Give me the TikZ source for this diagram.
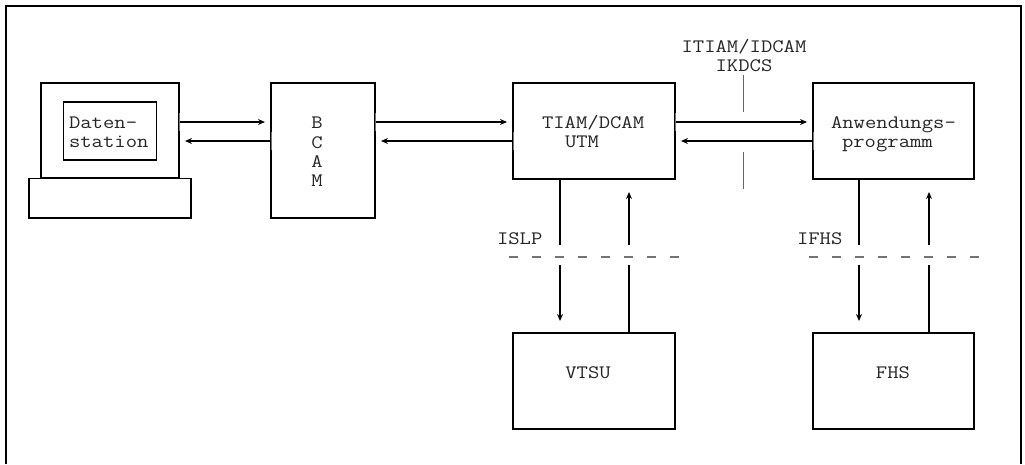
\documentclass[tikz,border=0pt]{standalone}
\usepackage{fontspec}
\setmainfont[FakeStretch=1.16]{Latin Modern Mono}
\usetikzlibrary{arrows.meta}
\tikzset{
  x=1pt,y=-1pt,
  box/.style={draw=black,line width=1.9pt,fill=white,inner sep=0pt,outer sep=0pt},
  lab/.style={inner sep=0pt,outer sep=0pt,text=black!85,font=\fontsize{19}{19.5}\selectfont},
  link/.style={draw=black,line width=1.8pt},
  arr/.style={link,-{Stealth[length=7pt,width=6pt]}},
  tick/.style={draw=black!55,line width=0.8pt},
  thin rule/.style={draw=black!60,line width=0.9pt},
  cut/.style={draw=black!55,line width=1.6pt,dash pattern=on 9pt off 14pt},
}
\begin{document}
\begin{tikzpicture}
\useasboundingbox (0,0) rectangle (1025,464);
\draw[black,line width=2pt] (6,464) -- (6,5.5) -- (1021,5.5) -- (1021,464);
% boxes
\node[box,minimum width=138pt,minimum height=95pt,anchor=north west] (mon) at (41,83) {};
\node[box,minimum width=162pt,minimum height=39.5pt,anchor=north west] (base) at (29,178.5) {};
\node[box,minimum width=93pt,minimum height=58pt,anchor=north west] (dat) at (63.5,102) {};
\node[box,minimum width=104pt,minimum height=135pt,anchor=north west] (bcam) at (271,83) {};
\node[box,minimum width=162pt,minimum height=96pt,anchor=north west] (tiam) at (513,83) {};
\node[box,minimum width=161pt,minimum height=96pt,anchor=north west] (anw) at (813,83) {};
\node[box,minimum width=162pt,minimum height=96pt,anchor=north west] (vtsu) at (513,333) {};
\node[box,minimum width=161pt,minimum height=96pt,anchor=north west] (fhs) at (813,333) {};
% text
\node[lab,anchor=base west] (t1) at (69,128) {Daten-};
\node[lab,anchor=base west] (t2) at (69,147) {station};
\node[lab,anchor=base] (b1) at (317,128) {B};
\node[lab,anchor=base] (b2) at (317,148) {C};
\node[lab,anchor=base] (b3) at (317,167) {A};
\node[lab,anchor=base] (b4) at (317,186) {M};
\node[lab,anchor=base west] (t3) at (542,128) {TIAM/DCAM};
\node[lab,anchor=base west] (t4) at (565,147) {UTM};
\node[lab,anchor=base west] (t5) at (831,128) {Anwendungs-};
\node[lab,anchor=base west] (t6) at (842,147) {programm};
\node[lab,anchor=base] (t7) at (744,52) {ITIAM/IDCAM};
\node[lab,anchor=base] (t8) at (744,71) {IKDCS};
\node[lab,anchor=base west] (t9) at (497,244) {ISLP};
\node[lab,anchor=base west] (t10) at (797,244) {IFHS};
\node[lab,anchor=base] (t11) at (588,378) {VTSU};
\node[lab,anchor=base] (t12) at (893,378) {FHS};
% free ends
\coordinate (yA) at (0,122);
\coordinate (yB) at (0,141);
\coordinate (a1) at (265,122); \coordinate (a2) at (185,141);
\coordinate (a3) at (507,122); \coordinate (a4) at (381,141);
\coordinate (a5) at (807,122); \coordinate (a6) at (681,141);
\coordinate (d1a) at (560,245); \coordinate (d1b) at (560,265); \coordinate (d1c) at (560,321);
\coordinate (d2a) at (629,265); \coordinate (d2b) at (629,245); \coordinate (d2c) at (629,192);
\coordinate (d3a) at (859,245); \coordinate (d3b) at (859,265); \coordinate (d3c) at (859,321);
\coordinate (d4a) at (929,265); \coordinate (d4b) at (929,245); \coordinate (d4c) at (929,192);
\coordinate (c1) at (508.5,257); \coordinate (c2) at (679,257);
\coordinate (c3) at (809,257); \coordinate (c4) at (979,257);
\coordinate (r1) at (743,75); \coordinate (r2) at (743,112);
\coordinate (r3) at (743,152); \coordinate (r4) at (743,189);
% horizontal arrows
\draw[arr] (mon.east |- yA) -- (a1);
\draw[arr] (bcam.west |- yB) -- (a2);
\draw[arr] (bcam.east |- yA) -- (a3);
\draw[arr] (tiam.west |- yB) -- (a4);
\draw[arr] (tiam.east |- yA) -- (a5);
\draw[arr] (anw.west |- yB) -- (a6);
% ticks at arrow tails
\draw[tick] ([yshift=-9pt]mon.east |- yA) -- ([yshift=9pt]mon.east |- yA);
\draw[tick] ([yshift=-9pt]bcam.west |- yB) -- ([yshift=9pt]bcam.west |- yB);
\draw[tick] ([yshift=-9pt]tiam.west |- yB) -- ([yshift=9pt]tiam.west |- yB);
\draw[tick] ([yshift=-9pt]tiam.east |- yA) -- ([yshift=9pt]tiam.east |- yA);
\draw[tick] ([yshift=-9pt]bcam.east |- yA) -- ([yshift=9pt]bcam.east |- yA);
\draw[tick] ([yshift=-9pt]anw.west |- yB) -- ([yshift=9pt]anw.west |- yB);
% vertical arrows
\draw[link] (tiam.south -| d1a) -- (d1a);
\draw[arr] (d1b) -- (d1c);
\draw[link] (vtsu.north -| d2a) -- (d2a);
\draw[arr] (d2b) -- (d2c);
\draw[link] (anw.south -| d3a) -- (d3a);
\draw[arr] (d3b) -- (d3c);
\draw[link] (fhs.north -| d4a) -- (d4a);
\draw[arr] (d4b) -- (d4c);
% interface cuts
\draw[cut] (c1) -- (c2);
\draw[cut] (c3) -- (c4);
\draw[thin rule] (r1) -- (r2);
\draw[thin rule] (r3) -- (r4);
\end{tikzpicture}
\end{document}
